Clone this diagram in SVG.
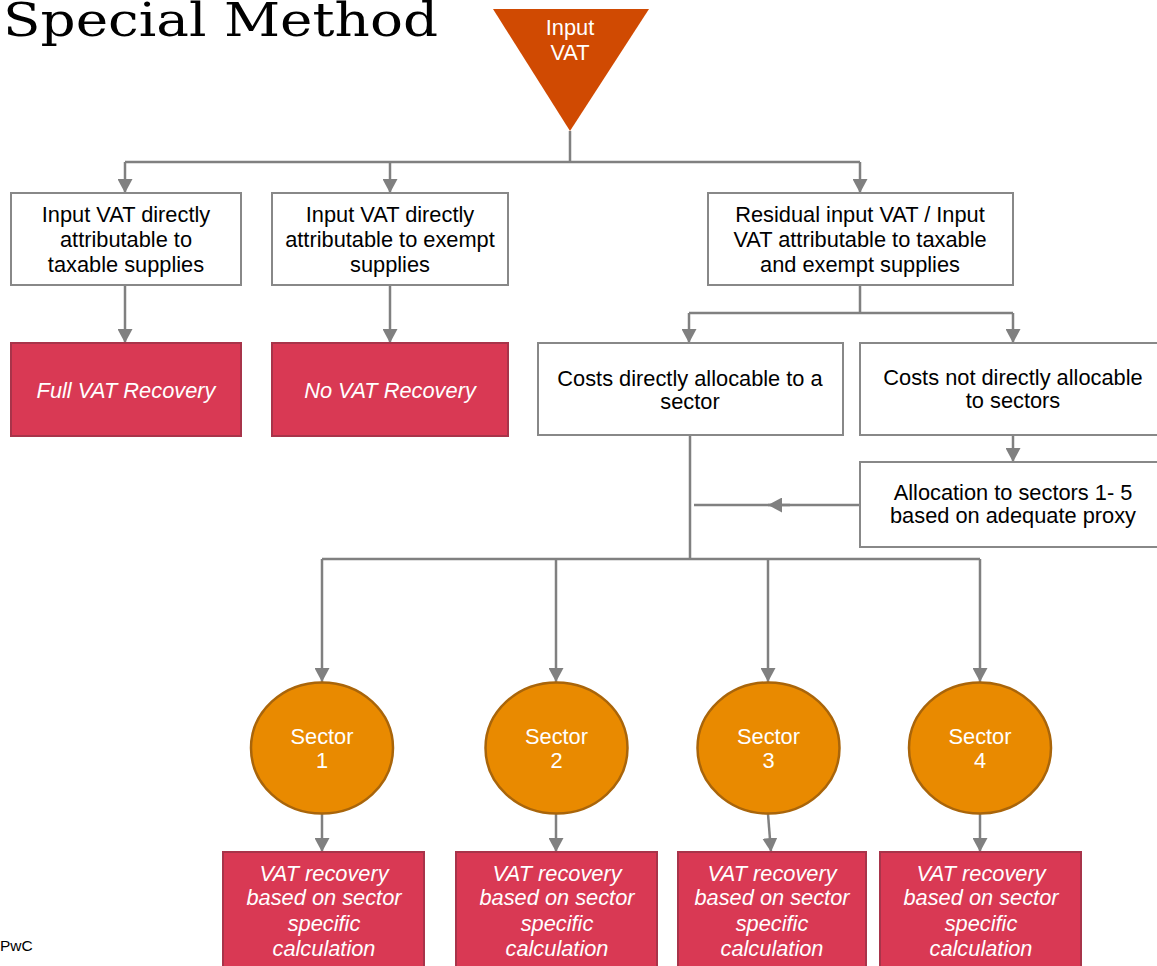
<svg xmlns="http://www.w3.org/2000/svg" width="1157" height="966" viewBox="0 0 1157 966">
<style>
.t{font-family:"Liberation Sans",Arial,sans-serif;font-size:21.8px;text-anchor:middle}
.dk{fill:#000}
.wt{fill:#fff}
.it{font-style:italic}
.box{fill:#fff;stroke:#888;stroke-width:2}
.red{fill:#D93954;stroke:#A8344A;stroke-width:2}
.sec{fill:#E98A00;stroke:#A9650A;stroke-width:2.5}
.c{fill:none;stroke:#808080;stroke-width:2.5}
.ca{fill:none;stroke:#808080;stroke-width:2.5;marker-end:url(#ah)}
</style>
<defs>
<marker id="ah" markerUnits="userSpaceOnUse" markerWidth="15" markerHeight="15" refX="14" refY="7.5" orient="auto">
<path d="M0,0 L14,7.5 L0,15 z" fill="#808080"/>
</marker>
</defs>
<rect width="1157" height="966" fill="#fff"/>
<text x="3" y="36" font-family="DejaVu Serif,Liberation Serif,serif" font-size="46" textLength="435" lengthAdjust="spacingAndGlyphs" fill="#000">Special Method</text>
<text x="0" y="951" font-family="Liberation Sans,Arial,sans-serif" font-size="15.5" fill="#000">PwC</text>

<g id="connectors">
<path class="c" d="M570,131 V162 M125,162 H860"/>
<path class="ca" d="M125,162 V193"/>
<path class="ca" d="M390,162 V193"/>
<path class="ca" d="M860,162 V193"/>
<path class="ca" d="M125,285 V343"/>
<path class="ca" d="M390,285 V343"/>
<path class="c" d="M860,285 V313 M689,313 H1013"/>
<path class="ca" d="M689,313 V343"/>
<path class="ca" d="M1013,313 V343"/>
<path class="ca" d="M1013,435 V462"/>
<path class="c" d="M860,505 H694"/>
<path class="ca" d="M790,505 H768"/>
<path class="c" d="M690,435 V559 M322,559 H980"/>
<path class="ca" d="M322,559 V682"/>
<path class="ca" d="M556,559 V682"/>
<path class="ca" d="M768,559 V682"/>
<path class="ca" d="M980,559 V682"/>
<path class="ca" d="M322,814 V852"/>
<path class="ca" d="M556,814 V852"/>
<path class="ca" d="M768,814 L771,852"/>
<path class="ca" d="M980,814 V852"/>
</g>

<g id="input-vat">
<polygon points="493,9 649,9 570,131" fill="#D04A02"/>
<text class="t wt" x="570" y="35">Input</text>
<text class="t wt" x="570" y="60">VAT</text>
</g>

<g id="box-taxable">
<rect class="box" x="11" y="193" width="230" height="92"/>
<text class="t dk" x="126" y="222">Input VAT directly</text>
<text class="t dk" x="126" y="247">attributable to</text>
<text class="t dk" x="126" y="272">taxable supplies</text>
</g>

<g id="box-exempt">
<rect class="box" x="272" y="193" width="236" height="92"/>
<text class="t dk" x="390" y="222">Input VAT directly</text>
<text class="t dk" x="390" y="247">attributable to exempt</text>
<text class="t dk" x="390" y="272">supplies</text>
</g>

<g id="box-residual">
<rect class="box" x="708" y="193" width="305" height="92"/>
<text class="t dk" x="860" y="222">Residual input VAT / Input</text>
<text class="t dk" x="860" y="247">VAT attributable to taxable</text>
<text class="t dk" x="860" y="272">and exempt supplies</text>
</g>

<g id="full-recovery">
<rect class="red" x="11" y="343" width="230" height="93"/>
<text class="t wt it" x="126" y="398">Full VAT Recovery</text>
</g>

<g id="no-recovery">
<rect class="red" x="272" y="343" width="236" height="93"/>
<text class="t wt it" x="390" y="398">No VAT Recovery</text>
</g>

<g id="costs-direct">
<rect class="box" x="538" y="343" width="305" height="92"/>
<text class="t dk" x="690" y="386">Costs directly allocable to a</text>
<text class="t dk" x="690" y="409">sector</text>
</g>

<g id="costs-not-direct">
<rect class="box" x="860" y="343" width="305" height="92"/>
<text class="t dk" x="1013" y="385">Costs not directly allocable</text>
<text class="t dk" x="1013" y="408">to sectors</text>
</g>

<g id="allocation">
<rect class="box" x="860" y="462" width="305" height="85"/>
<text class="t dk" x="1013" y="500">Allocation to sectors 1- 5</text>
<text class="t dk" x="1013" y="523">based on adequate proxy</text>
</g>

<g id="sector1">
<ellipse class="sec" cx="322" cy="748" rx="71" ry="65.5"/>
<text class="t wt" x="322" y="744">Sector</text>
<text class="t wt" x="322" y="768">1</text>
</g>
<g id="sector2">
<ellipse class="sec" cx="556.5" cy="748" rx="71" ry="65.5"/>
<text class="t wt" x="556.5" y="744">Sector</text>
<text class="t wt" x="556.5" y="768">2</text>
</g>
<g id="sector3">
<ellipse class="sec" cx="768.5" cy="748" rx="71" ry="65.5"/>
<text class="t wt" x="768.5" y="744">Sector</text>
<text class="t wt" x="768.5" y="768">3</text>
</g>
<g id="sector4">
<ellipse class="sec" cx="980" cy="748" rx="71" ry="65.5"/>
<text class="t wt" x="980" y="744">Sector</text>
<text class="t wt" x="980" y="768">4</text>
</g>

<g id="recovery1">
<rect class="red" x="223" y="852" width="201" height="130"/>
<text class="t wt it" x="324" y="881">VAT recovery</text>
<text class="t wt it" x="324" y="905">based on sector</text>
<text class="t wt it" x="324" y="931">specific</text>
<text class="t wt it" x="324" y="956">calculation</text>
</g>
<g id="recovery2">
<rect class="red" x="456" y="852" width="201" height="130"/>
<text class="t wt it" x="557" y="881">VAT recovery</text>
<text class="t wt it" x="557" y="905">based on sector</text>
<text class="t wt it" x="557" y="931">specific</text>
<text class="t wt it" x="557" y="956">calculation</text>
</g>
<g id="recovery3">
<rect class="red" x="678" y="852" width="188" height="130"/>
<text class="t wt it" x="772" y="881">VAT recovery</text>
<text class="t wt it" x="772" y="905">based on sector</text>
<text class="t wt it" x="772" y="931">specific</text>
<text class="t wt it" x="772" y="956">calculation</text>
</g>
<g id="recovery4">
<rect class="red" x="880" y="852" width="201" height="130"/>
<text class="t wt it" x="981" y="881">VAT recovery</text>
<text class="t wt it" x="981" y="905">based on sector</text>
<text class="t wt it" x="981" y="931">specific</text>
<text class="t wt it" x="981" y="956">calculation</text>
</g>
</svg>
